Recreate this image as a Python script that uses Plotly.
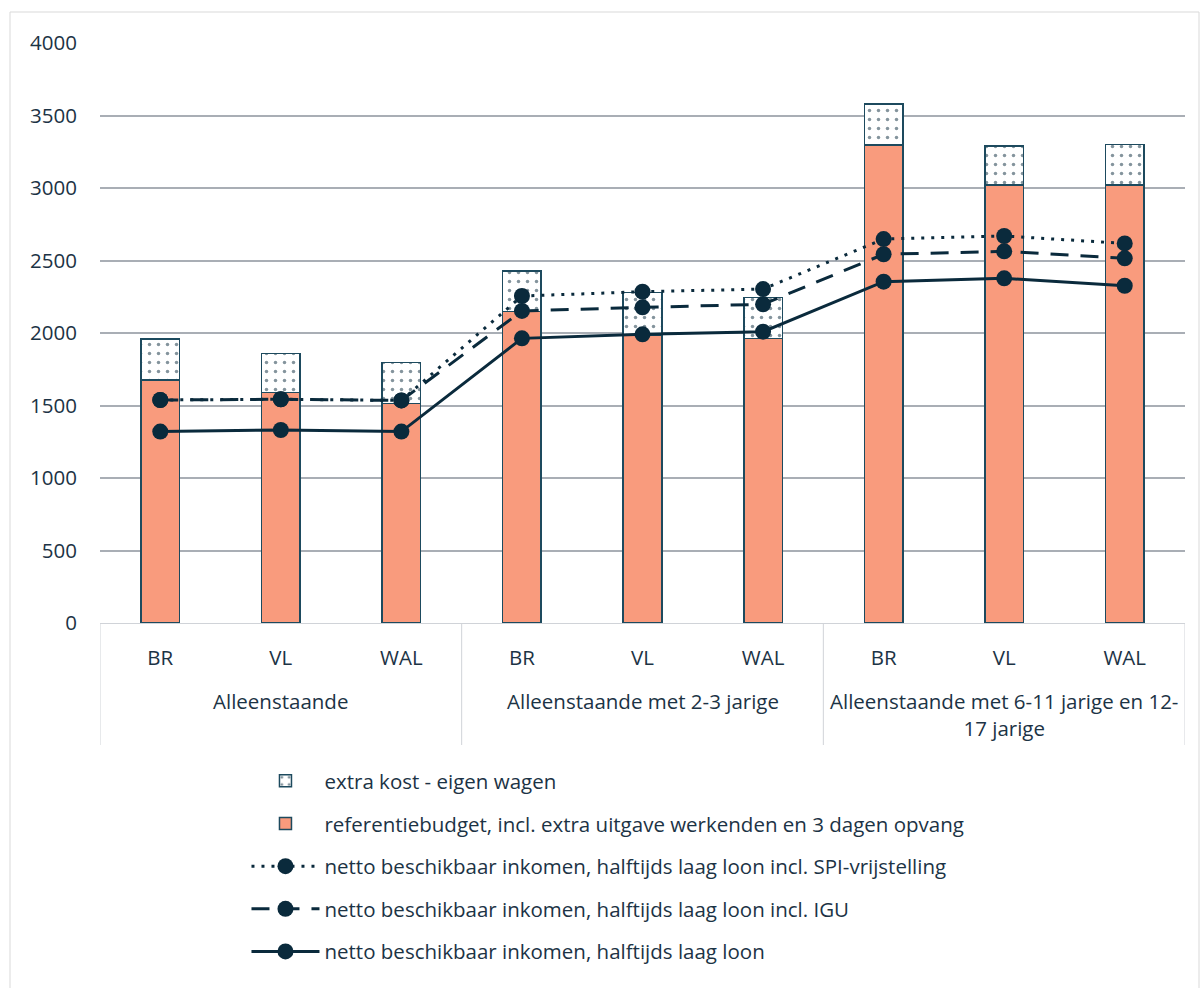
import plotly.graph_objects as go

groups = ["Alleenstaande", "Alleenstaande met 2-3 jarige", "Alleenstaande met 6-11 jarige en 12-<br>17 jarige"]
regions = ["BR", "VL", "WAL"]

referentiebudget = [1676, 1588, 1515, 2147, 1982, 1963, 3297, 3021, 3021]
extra_kost = [283, 272, 280, 281, 298, 281, 282, 269, 280]
netto_spi = [1538, 1543, 1535, 2255, 2285, 2303, 2648, 2669, 2618]
netto_igu = [1538, 1543, 1535, 2152, 2177, 2198, 2543, 2563, 2515]
netto_laag = [1320, 1331, 1320, 1963, 1991, 2009, 2354, 2377, 2326]

x_labels = regions * len(groups)
x = list(range(len(x_labels)))

salmon = "#F99B7D"
edge = "#1D4A5E"
dark = "#0A2A3C"
text = "#1C3345"
divider = "#D0D3D8"
font = "Open Sans"
fs = 20.5

fig = go.Figure()
fig.add_trace(go.Bar(
    x=x, y=referentiebudget, name="referentiebudget, incl. extra uitgave werkenden en 3 dagen opvang",
    marker=dict(color=salmon, line=dict(color=edge, width=1.5)), legendrank=2, legendgroup="b",
))
fig.add_trace(go.Bar(
    x=x, y=extra_kost, name="extra kost - eigen wagen",
    marker=dict(color="white", line=dict(color=edge, width=1.5),
                pattern=dict(shape=".", fgcolor=dark, bgcolor="white", size=9, solidity=0.12)),
    legendrank=1, legendgroup="a",
))
fig.add_trace(go.Scatter(
    x=x, y=netto_spi, mode="lines+markers", name="netto beschikbaar inkomen, halftijds laag loon incl. SPI-vrijstelling",
    line=dict(color=dark, width=3, dash="3px,7px"), marker=dict(size=16, color=dark), legendrank=3, legendgroup="c",
))
fig.add_trace(go.Scatter(
    x=x, y=netto_igu, mode="lines+markers", name="netto beschikbaar inkomen, halftijds laag loon incl. IGU",
    line=dict(color=dark, width=3, dash="18px,12px"), marker=dict(size=16, color=dark), legendrank=4, legendgroup="d",
))
fig.add_trace(go.Scatter(
    x=x, y=netto_laag, mode="lines+markers", name="netto beschikbaar inkomen, halftijds laag loon",
    line=dict(color=dark, width=3), marker=dict(size=16, color=dark), legendrank=5, legendgroup="e",
))

n = len(regions)
annotations = []
shapes = []
for gi, g in enumerate(groups):
    annotations.append(dict(x=gi * n + (n - 1) / 2, xref="x", y=(623 - 685) / 580, yref="paper",
                            text=g, showarrow=False, yanchor="top", xanchor="center",
                            font=dict(size=fs, color=text, family=font)))
for b in range(len(groups) + 1):
    shapes.append(dict(type="line", xref="x", yref="paper", x0=b * n - 0.5, x1=b * n - 0.5,
                       y0=0, y1=(623 - 745) / 580, line=dict(color=divider, width=1)))
shapes.append(dict(type="rect", xref="paper", yref="paper",
                   x0=(10 - 100) / 1085, x1=(1199 - 100) / 1085,
                   y0=(623 - 990) / 580, y1=(623 - 12) / 580,
                   line=dict(color="#D9D9D9", width=1), fillcolor="rgba(0,0,0,0)", layer="below"))

fig.update_layout(
    width=1202, height=988,
    barmode="stack", bargap=0.68,
    plot_bgcolor="white", paper_bgcolor="white",
    margin=dict(l=100, r=17, t=43, b=365),
    font=dict(family=font, size=fs, color=text),
    legend=dict(x=0.135, y=-0.238, xanchor="left", yanchor="top", orientation="v",
                tracegroupgap=13, itemwidth=68, font=dict(size=fs, color=text), traceorder="grouped"),
    xaxis=dict(range=[-0.5, len(x) - 0.5], tickmode="array", tickvals=x, ticktext=x_labels,
               showline=True, linecolor=divider, linewidth=1, showgrid=False, zeroline=False,
               tickfont=dict(size=fs, color=text), ticks="", ticklabelstandoff=16),
    yaxis=dict(range=[0, 4000], dtick=500, showgrid=True, gridcolor="#A9AEB5", gridwidth=1.5,
               zeroline=False, showline=False, tickfont=dict(size=fs, color=text), ticklen=0,
               ticklabelstandoff=22),
    annotations=annotations,
    shapes=shapes,
)

fig.write_html("out.html")
